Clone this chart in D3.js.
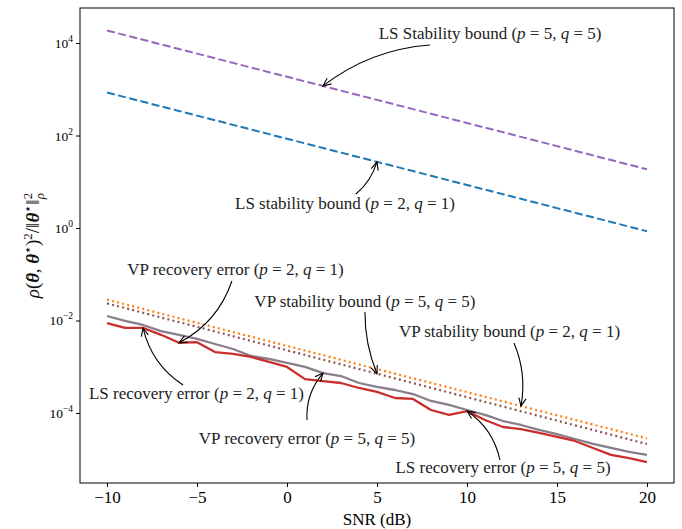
<!DOCTYPE html>
<html>
<head>
<meta charset="utf-8">
<script src="https://cdn.jsdelivr.net/npm/d3@7"></script>
<style>
  body { margin: 0; background: #fff; }
  svg { font-family: "Liberation Serif", "Times New Roman", serif; }
</style>
</head>
<body>
<svg id="chart" width="682" height="529"></svg>
<script>
// SNR grid (dB)
const snr = [-10, -9, -8, -7, -6, -5, -4, -3, -2, -1, 0, 1, 2, 3, 4, 5, 6, 7, 8, 9, 10,
             11, 12, 13, 14, 15, 16, 17, 18, 19, 20];

// LS stability bound (p=5,q=5) - purple dashed
const lsStab55 = [1.86e4, 1.48e4, 1.18e4, 9.33e3, 7.41e3, 5.89e3, 4.68e3, 3.72e3, 2.95e3, 2.34e3,
                  1.86e3, 1.48e3, 1.18e3, 933, 741, 589, 468, 372, 295, 234,
                  186, 148, 118, 93.3, 74.1, 58.9, 46.8, 37.2, 29.5, 23.4, 18.6];
// LS stability bound (p=2,q=1) - blue dashed
const lsStab21 = [851, 676, 537, 427, 339, 269, 214, 170, 135, 107,
                  85.1, 67.6, 53.7, 42.7, 33.9, 26.9, 21.4, 17.0, 13.5, 10.7,
                  8.51, 6.76, 5.37, 4.27, 3.39, 2.69, 2.14, 1.70, 1.35, 1.07, 0.851];
// VP stability bound (p=2,q=1) - orange dotted
const vpStab21 = [2.82e-2, 2.24e-2, 1.78e-2, 1.41e-2, 1.12e-2, 8.91e-3, 7.08e-3, 5.62e-3, 4.47e-3, 3.55e-3,
                  2.82e-3, 2.24e-3, 1.78e-3, 1.41e-3, 1.12e-3, 8.91e-4, 7.08e-4, 5.62e-4, 4.47e-4, 3.55e-4,
                  2.82e-4, 2.24e-4, 1.78e-4, 1.41e-4, 1.12e-4, 8.91e-5, 7.08e-5, 5.62e-5, 4.47e-5, 3.55e-5, 2.82e-5];
// VP stability bound (p=5,q=5) - brown dotted
const vpStab55 = [2.34e-2, 1.86e-2, 1.47e-2, 1.16e-2, 9.21e-3, 7.29e-3, 5.78e-3, 4.57e-3, 3.62e-3, 2.87e-3,
                  2.27e-3, 1.80e-3, 1.42e-3, 1.13e-3, 8.92e-4, 7.06e-4, 5.59e-4, 4.43e-4, 3.50e-4, 2.78e-4,
                  2.20e-4, 1.74e-4, 1.38e-4, 1.09e-4, 8.64e-5, 6.84e-5, 5.41e-5, 4.29e-5, 3.40e-5, 2.69e-5, 2.13e-5];
// VP recovery error (p=5,q=5) - grey solid
const vpRec55 = [1.25e-2, 9.8e-3, 8.0e-3, 5.9e-3, 4.9e-3, 4.0e-3, 3.1e-3, 2.42e-3, 1.71e-3, 1.47e-3,
                 1.21e-3, 9.9e-4, 7.3e-4, 6.3e-4, 4.45e-4, 3.65e-4, 3.14e-4, 2.57e-4, 1.82e-4, 1.49e-4,
                 1.16e-4, 9.1e-5, 6.7e-5, 5.5e-5, 4.3e-5, 3.5e-5, 2.74e-5, 2.14e-5, 1.75e-5, 1.44e-5, 1.24e-5];
// LS recovery error - red solid
const lsRec = [8.8e-3, 6.9e-3, 6.9e-3, 4.9e-3, 3.3e-3, 3.4e-3, 2.08e-3, 1.89e-3, 1.63e-3, 1.27e-3,
               9.9e-4, 5.4e-4, 4.9e-4, 4.45e-4, 3.47e-4, 2.85e-4, 2.11e-4, 2.01e-4, 1.16e-4, 9.1e-5,
               1.10e-4, 7.06e-5, 4.98e-5, 4.5e-5, 3.7e-5, 3.03e-5, 2.48e-5, 1.75e-5, 1.24e-5, 1.06e-5, 8.7e-6];

const xTicks = [-10, -5, 0, 5, 10, 15, 20];
const yTickExp = [-4, -2, 0, 2, 4];

const seriesList = [
  { values: lsStab55, color: '#9467bd', dash: '8,3.5', width: 2 },
  { values: lsStab21, color: '#1f77b4', dash: '8,3.5', width: 2 },
  { values: vpStab21, color: '#ff7f0e', dash: '2,3.2', width: 2.2 },
  { values: vpStab55, color: '#8c564b', dash: '2,3.2', width: 2.2 },
  { values: vpRec55, color: '#8a7d8c', dash: null, width: 2.3 },
  { values: lsRec, color: '#c9302c', dash: null, width: 2.3 }
];

// annotations: label, series + snr of arrow tip, text anchor and arrow start in data coords
const annotations = [
  { pre: 'LS Stability bound', p: 5, q: 5, tip: [lsStab55, 2], text: [11.28, 1.22e4], start: [7.94, 9.06e3], rad: 0.15 },
  { pre: 'LS stability bound', p: 2, q: 1, tip: [lsStab21, 5], text: [3.22, 2.58], start: [3.83, 5.43], rad: 0.15 },
  { pre: 'VP recovery error', p: 2, q: 1, tip: [lsRec, -6], text: [-2.86, 9.64e-2], start: [-3.06, 7.15e-2], rad: -0.2 },
  { pre: 'LS recovery error', p: 2, q: 1, tip: [lsRec, -8], text: [-5.03, 2.01e-4], start: [-5.78, 4.03e-4], rad: -0.2 },
  { pre: 'VP stability bound', p: 5, q: 5, tip: [vpStab55, 5], text: [4.33, 1.99e-2], start: [4.33, 1.53e-2], rad: 0.1 },
  { pre: 'VP stability bound', p: 2, q: 1, tip: [vpStab21, 13], text: [12.36, 4.40e-3], start: [12.61, 3.26e-3], rad: -0.15 },
  { pre: 'VP recovery error', p: 5, q: 5, tip: [vpRec55, 2], text: [1.11, 2.14e-5], start: [1.11, 7.06e-5], rad: -0.2 },
  { pre: 'LS recovery error', p: 5, q: 5, tip: [lsRec, 10], text: [12.0, 5.12e-6], start: [11.83, 9.64e-6], rad: 0.2 }
];

const W = 682, H = 529;
const margin = { left: 80, right: 8, top: 8, bottom: 46 };
const svg = d3.select('#chart');

const x = d3.scaleLinear().domain([-11.5, 21.5]).range([margin.left, W - margin.right]);
const y = d3.scaleLog().domain([Math.pow(10, -5.514), Math.pow(10, 4.757)]).range([H - margin.bottom, margin.top]);

svg.append('defs').append('marker')
  .attr('id', 'arrow').attr('viewBox', '-10 -6 12 12')
  .attr('refX', 0).attr('refY', 0)
  .attr('markerWidth', 12).attr('markerHeight', 12)
  .attr('markerUnits', 'userSpaceOnUse').attr('orient', 'auto')
  .append('path').attr('d', 'M-8,-3.6L0,0L-8,3.6')
  .attr('fill', 'none').attr('stroke', '#000').attr('stroke-width', 1.1);

// lines
const line = d3.line().x((d, i) => x(snr[i])).y(d => y(d));
svg.append('g').selectAll('path').data(seriesList).enter().append('path')
  .attr('d', d => line(d.values))
  .attr('fill', 'none')
  .attr('stroke', d => d.color)
  .attr('stroke-width', d => d.width)
  .attr('stroke-dasharray', d => d.dash)
  .attr('stroke-linejoin', 'round');

// x axis
const xAxis = svg.append('g').attr('transform', `translate(0,${H - margin.bottom})`)
  .call(d3.axisBottom(x).tickValues(xTicks).tickSize(4).tickPadding(4)
    .tickFormat(d => d < 0 ? '\u2212' + Math.abs(d) : String(d)));
xAxis.select('.domain').remove();
xAxis.selectAll('text').attr('font-size', 17).attr('font-family', '"Liberation Serif", serif').attr('fill', '#000');
xAxis.selectAll('line').attr('stroke', '#000');

// y axis
const yAxis = svg.append('g').attr('transform', `translate(${margin.left},0)`)
  .call(d3.axisLeft(y).tickValues(yTickExp.map(e => Math.pow(10, e))).tickSize(4).tickFormat(''));
yAxis.select('.domain').remove();
yAxis.selectAll('line').attr('stroke', '#000');
const yl = svg.append('g').selectAll('text').data(yTickExp).enter().append('text')
  .attr('x', margin.left - 7)
  .attr('y', e => y(Math.pow(10, e)) + 5)
  .attr('text-anchor', 'end')
  .attr('font-size', 13.5);
yl.append('tspan').text('10');
yl.append('tspan').attr('dy', -6).attr('font-size', 9.5)
  .text(e => e < 0 ? '\u2212' + Math.abs(e) : String(e));

// frame
svg.append('rect')
  .attr('x', margin.left).attr('y', margin.top)
  .attr('width', W - margin.left - margin.right).attr('height', H - margin.top - margin.bottom)
  .attr('fill', 'none').attr('stroke', '#000').attr('stroke-width', 1);

// axis labels
svg.append('text').attr('x', (margin.left + W - margin.right) / 2).attr('y', 525)
  .attr('text-anchor', 'middle').attr('font-size', 17).text('SNR (dB)');

const ylab = svg.append('text')
  .attr('transform', `translate(39,${(margin.top + H - margin.bottom) / 2}) rotate(-90)`)
  .attr('text-anchor', 'middle').attr('font-size', 19).attr('fill', '#111');
const bi = s => ylab.append('tspan').attr('font-style', 'italic').attr('font-weight', 'bold').text(s);
ylab.append('tspan').attr('font-style', 'italic').text('\u03C1');
ylab.append('tspan').text('(');
bi('\u03B8');
ylab.append('tspan').attr('dx', -8).attr('dy', -2).attr('font-size', 15).text('\u02C6');
ylab.append('tspan').attr('dx', 2.5).attr('dy', 2).text(', ');
bi('\u03B8');
ylab.append('tspan').attr('dy', -7).attr('font-size', 13).text('\u22C6');
ylab.append('tspan').attr('dy', 7).text(')');
ylab.append('tspan').attr('dy', -7).attr('font-size', 13).text('2');
ylab.append('tspan').attr('dy', 7).text('/\u2016');
bi('\u03B8');
ylab.append('tspan').attr('dy', -7).attr('font-size', 13).text('\u22C6');
ylab.append('tspan').attr('dy', 7).text('\u2016');
ylab.append('tspan').attr('dy', -7).attr('font-size', 13).text('2');
ylab.append('tspan').attr('dx', -6.5).attr('dy', 12).attr('font-size', 13).attr('font-style', 'italic').text('\u03C1');

// annotations
function arcPath(x1, y1, x2, y2, r) {
  const mx = (x1 + x2) / 2, my = (y1 + y2) / 2;
  const cx = mx - r * (y2 - y1), cy = my + r * (x2 - x1);
  return `M${x1},${y1}Q${cx},${cy} ${x2},${y2}`;
}
const ann = svg.append('g');
annotations.forEach(a => {
  const tx = x(a.tip[1]), ty = y(a.tip[0][snr.indexOf(a.tip[1])]);
  const sx = x(a.start[0]), sy = y(a.start[1]);
  ann.append('path').attr('d', arcPath(sx, sy, tx, ty, a.rad))
    .attr('fill', 'none').attr('stroke', '#000').attr('stroke-width', 1.1)
    .attr('marker-end', 'url(#arrow)');
  const t = ann.append('text').attr('x', x(a.text[0])).attr('y', y(a.text[1]))
    .attr('text-anchor', 'middle').attr('font-size', 17).attr('fill', '#222');
  t.append('tspan').text(a.pre + ' (');
  t.append('tspan').attr('font-style', 'italic').text('p');
  t.append('tspan').text(' = ' + a.p + ', ');
  t.append('tspan').attr('font-style', 'italic').text('q');
  t.append('tspan').text(' = ' + a.q + ')');
});
</script>
</body>
</html>
